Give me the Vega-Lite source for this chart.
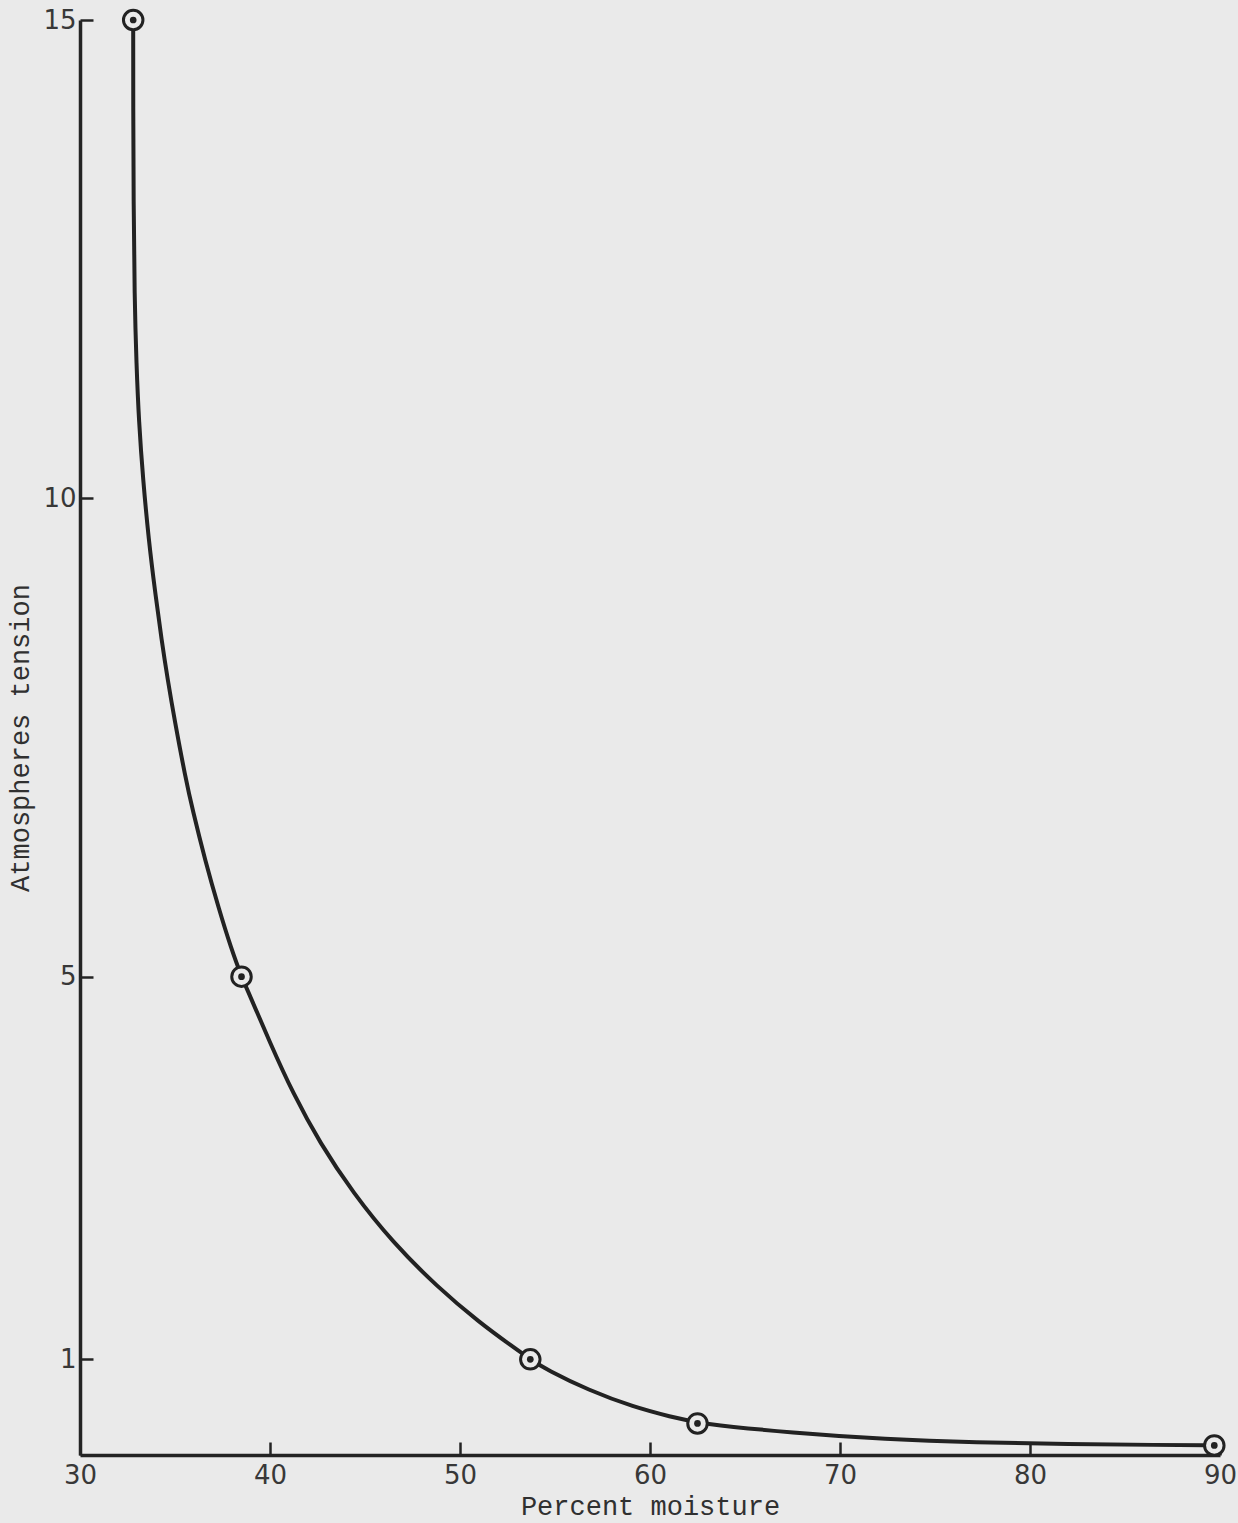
{
  "$schema": "https://vega.github.io/schema/vega-lite/v6.json",
  "width": 1140,
  "height": 1435,
  "autosize": {"type": "none"},
  "padding": {"left": 80, "top": 20, "right": 18, "bottom": 68},
  "background": "#eaeaea",
  "config": {
    "view": {"stroke": null},
    "axis": {
      "grid": false,
      "domainColor": "#242424",
      "domainWidth": 3.5,
      "tickColor": "#242424",
      "tickWidth": 2.5,
      "tickSize": -13,
      "labelFont": "DejaVu Sans",
      "labelFontSize": 26,
      "labelColor": "#383838",
      "labelFlush": false,
      "titleFont": "Liberation Mono",
      "titleFontSize": 27,
      "titleFontWeight": "normal",
      "titleColor": "#303030"
    }
  },
  "datasets": {
    "curve": [
      {"moisture": 32.8, "tension": 15.0},
      {"moisture": 32.8, "tension": 14.1},
      {"moisture": 32.82, "tension": 13.1},
      {"moisture": 32.87, "tension": 12.1},
      {"moisture": 32.97, "tension": 11.4},
      {"moisture": 33.1, "tension": 10.8},
      {"moisture": 33.32, "tension": 10.19},
      {"moisture": 33.62, "tension": 9.56},
      {"moisture": 33.94, "tension": 9.04},
      {"moisture": 34.3, "tension": 8.51},
      {"moisture": 34.62, "tension": 8.1},
      {"moisture": 34.98, "tension": 7.68},
      {"moisture": 35.55, "tension": 7.08},
      {"moisture": 35.93, "tension": 6.74},
      {"moisture": 36.58, "tension": 6.22},
      {"moisture": 37.32, "tension": 5.7},
      {"moisture": 37.95, "tension": 5.3},
      {"moisture": 38.5, "tension": 5.0},
      {"moisture": 38.86, "tension": 4.84},
      {"moisture": 40.0, "tension": 4.31},
      {"moisture": 41.21, "tension": 3.78},
      {"moisture": 42.63, "tension": 3.26},
      {"moisture": 44.37, "tension": 2.74},
      {"moisture": 46.47, "tension": 2.22},
      {"moisture": 48.79, "tension": 1.76},
      {"moisture": 51.05, "tension": 1.38},
      {"moisture": 52.79, "tension": 1.13},
      {"moisture": 53.7, "tension": 1.0},
      {"moisture": 54.58, "tension": 0.89},
      {"moisture": 56.74, "tension": 0.68},
      {"moisture": 59.16, "tension": 0.5},
      {"moisture": 61.11, "tension": 0.4},
      {"moisture": 62.5, "tension": 0.33},
      {"moisture": 67.58, "tension": 0.23},
      {"moisture": 72.37, "tension": 0.165},
      {"moisture": 77.21, "tension": 0.13},
      {"moisture": 82.0, "tension": 0.115},
      {"moisture": 86.79, "tension": 0.105},
      {"moisture": 89.7, "tension": 0.1}
    ],
    "observed": [
      {"moisture": 32.8, "tension": 15.0},
      {"moisture": 38.5, "tension": 5.0},
      {"moisture": 53.7, "tension": 1.0},
      {"moisture": 62.5, "tension": 0.33},
      {"moisture": 89.7, "tension": 0.1}
    ]
  },
  "encoding": {
    "x": {
      "field": "moisture",
      "type": "quantitative",
      "scale": {"domain": [30, 90], "nice": false, "zero": false},
      "axis": {
        "values": [30, 40, 50, 60, 70, 80, 90],
        "title": "Percent moisture",
        "labelPadding": 20,
        "titlePadding": 5
      }
    },
    "y": {
      "field": "tension",
      "type": "quantitative",
      "scale": {"domain": [0, 15], "nice": false},
      "axis": {
        "values": [1, 5, 10, 15],
        "title": "Atmospheres tension",
        "labelPadding": 17,
        "titlePadding": 8
      }
    }
  },
  "layer": [
    {
      "data": {"name": "curve"},
      "mark": {"type": "line", "interpolate": "basis", "color": "#222222", "strokeWidth": 4}
    },
    {
      "data": {"name": "observed"},
      "mark": {"type": "point", "shape": "circle", "filled": false, "fill": "#eaeaea", "fillOpacity": 1, "stroke": "#222222", "strokeWidth": 3, "size": 380, "opacity": 1}
    },
    {
      "data": {"name": "observed"},
      "mark": {"type": "point", "shape": "circle", "filled": true, "color": "#222222", "size": 45, "opacity": 1}
    }
  ]
}
